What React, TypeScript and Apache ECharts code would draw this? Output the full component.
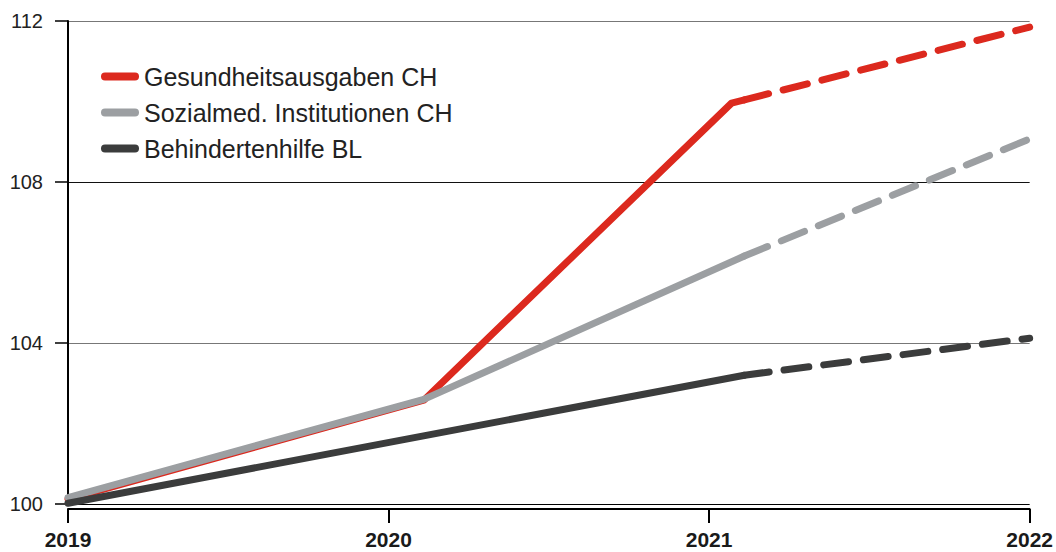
import React, { useEffect, useRef } from "react";
import * as echarts from "echarts";

const yearTicks = [2019, 2020, 2021, 2022];
const yTicks = [100, 104, 108, 112];

const seriesNames = [
  "Gesundheitsausgaben CH",
  "Sozialmed. Institutionen CH",
  "Behindertenhilfe BL",
];
const seriesColors = ["#dc291e", "#9c9fa2", "#3b3c3c"];

// solid (actual) parts
const gesundSolidX = [2019, 2020.11, 2021.07, 2021.11];
const gesundSolidY = [100.12, 102.58, 109.96, 110.04];
const sozialSolidX = [2019, 2020.11, 2021.11];
const sozialSolidY = [100.16, 102.6, 106.16];
const behindSolidX = [2019, 2021.11];
const behindSolidY = [100.02, 103.2];

// dashed (forecast) parts
const gesundDashX = [2021.11, 2022];
const gesundDashY = [110.04, 111.85];
const sozialDashX = [2021.11, 2022];
const sozialDashY = [106.16, 109.07];
const behindDashX = [2021.11, 2022];
const behindDashY = [103.2, 104.12];

const zip = (xs: number[], ys: number[]) => xs.map((x, i) => [x, ys[i]]);

const FONT = "'Liberation Sans', Arial, sans-serif";

export default function App() {
  const ref = useRef<HTMLDivElement>(null);
  useEffect(() => {
    if (!ref.current) return;
    const chart = echarts.init(ref.current, null, { renderer: "svg" });
    const solid = (name: string, color: string, data: number[][]) => ({
      type: "line",
      name,
      color,
      data,
      symbol: "none",
      silent: true,
      lineStyle: { color, width: 7, cap: "round", join: "round" },
    });
    const dashed = (name: string, color: string, data: number[][]) => ({
      type: "line",
      name,
      color,
      data,
      symbol: "none",
      silent: true,
      lineStyle: { color, width: 7, type: [25, 15], cap: "round", join: "round" },
    });
    chart.setOption({
      animation: false,
      grid: { left: 68, right: 24, top: 21, bottom: 48, containLabel: false },
      legend: {
        data: seriesNames,
        orient: "vertical",
        left: 96,
        top: 59,
        itemWidth: 38,
        itemHeight: 8,
        itemGap: 11,
        icon: "path://M4,0 L34,0 A4,4 0 0 1 34,8 L4,8 A4,4 0 0 1 4,0 Z",
        textStyle: { fontSize: 25, color: "#222", fontFamily: FONT, lineHeight: 25 },
        itemStyle: { borderWidth: 0 },
        selectedMode: false,
      },
      xAxis: {
        type: "value",
        min: yearTicks[0],
        max: yearTicks[yearTicks.length - 1],
        interval: 1,
        offset: 5,
        axisLine: { show: true, lineStyle: { color: "#000", width: 2 } },
        axisTick: { show: true, length: 14, lineStyle: { color: "#000", width: 2 } },
        axisLabel: {
          margin: 20,
          fontSize: 21,
          fontWeight: "bold",
          color: "#1a1a1a",
          fontFamily: FONT,
          formatter: (v: number) => String(v),
        },
        splitLine: { show: false },
      },
      yAxis: {
        type: "value",
        min: yTicks[0],
        max: yTicks[yTicks.length - 1],
        interval: 4,
        axisLine: { show: true, lineStyle: { color: "#000", width: 2 } },
        axisTick: { show: true, length: 13, lineStyle: { color: "#000", width: 1.5 } },
        axisLabel: {
          margin: 25,
          fontSize: 20,
          color: "#222",
          fontFamily: FONT,
        },
        splitLine: {
          show: true,
          lineStyle: { color: ["#000", "#777", "#111", "#777"], width: 1 },
        },
      },
      series: [
        solid(seriesNames[0], seriesColors[0], zip(gesundSolidX, gesundSolidY)),
        dashed(seriesNames[0] + " Prognose", seriesColors[0], zip(gesundDashX, gesundDashY)),
        solid(seriesNames[1], seriesColors[1], zip(sozialSolidX, sozialSolidY)),
        dashed(seriesNames[1] + " Prognose", seriesColors[1], zip(sozialDashX, sozialDashY)),
        solid(seriesNames[2], seriesColors[2], zip(behindSolidX, behindSolidY)),
        dashed(seriesNames[2] + " Prognose", seriesColors[2], zip(behindDashX, behindDashY)),
      ],
    });
    return () => chart.dispose();
  }, []);
  return (
    <div
      ref={ref}
      style={{ position: "fixed", left: 0, top: 0, width: 1056, height: 552, background: "#fff" }}
    />
  );
}
